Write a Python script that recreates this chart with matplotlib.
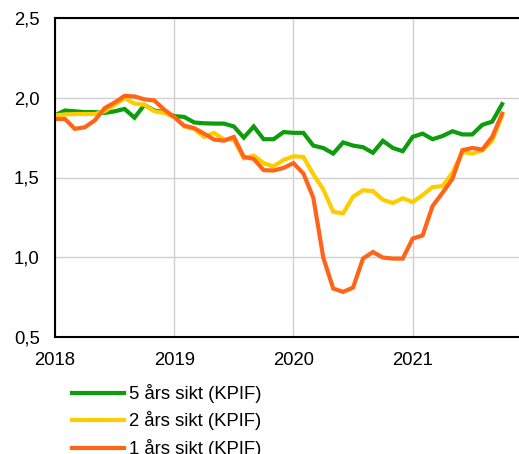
import matplotlib
matplotlib.use("Agg")
import matplotlib.pyplot as plt
import numpy as np

plt.rcParams["font.family"] = ["Liberation Sans", "DejaVu Sans"]

# Monthly data, Jan 2018 - Oct 2021
year_ticks = [2018, 2019, 2020, 2021]
y_ticks = [0.5, 1.0, 1.5, 2.0, 2.5]

kpif_5y = [1.89, 1.92, 1.915, 1.91, 1.91, 1.905, 1.915, 1.93, 1.875, 1.955, 1.92, 1.91,
           1.885, 1.88, 1.845, 1.84, 1.838, 1.838, 1.82, 1.75, 1.82, 1.74, 1.74, 1.785,
           1.78, 1.78, 1.70, 1.685, 1.65, 1.72, 1.70, 1.69, 1.655, 1.73, 1.685, 1.665,
           1.755, 1.775, 1.74, 1.76, 1.79, 1.77, 1.77, 1.83, 1.85, 1.96]
kpif_2y = [1.89, 1.895, 1.898, 1.898, 1.898, 1.915, 1.955, 1.998, 1.963, 1.956, 1.915, 1.904,
           1.879, 1.82, 1.805, 1.755, 1.78, 1.738, 1.738, 1.62, 1.638, 1.59, 1.57, 1.61,
           1.633, 1.629, 1.52, 1.425, 1.285, 1.275, 1.38, 1.42, 1.415, 1.36, 1.34, 1.37,
           1.346, 1.39, 1.44, 1.446, 1.53, 1.66, 1.65, 1.67, 1.73, 1.89]
kpif_1y = [1.867, 1.867, 1.805, 1.815, 1.858, 1.935, 1.97, 2.012, 2.008, 1.99, 1.983, 1.925,
           1.879, 1.825, 1.81, 1.775, 1.738, 1.731, 1.754, 1.629, 1.617, 1.546, 1.544, 1.56,
           1.59, 1.525, 1.373, 0.998, 0.804, 0.783, 0.81, 0.992, 1.033, 0.998, 0.992, 0.992,
           1.117, 1.137, 1.321, 1.404, 1.492, 1.671, 1.685, 1.675, 1.754, 1.90]
labels = ["5 års sikt (KPIF)", "2 års sikt (KPIF)", "1 års sikt (KPIF)"]
colors = ["#0c9c0c", "#ffcc00", "#ff6418"]


def main():
  x = np.arange(len(kpif_5y))

  fig = plt.figure(figsize=(5.19, 4.54), dpi=100)
  ax = fig.add_axes([55 / 519, 1 - 337 / 454, 1 - 55 / 519, (337 - 18) / 454])

  for series, color, label in zip([kpif_5y, kpif_2y, kpif_1y], colors, labels):
    ax.plot(x, series, color=color, lw=3.0, label=label, solid_joinstyle="miter")

  ax.set_xlim(0, 46.7)
  ax.set_ylim(0.5, 2.5)
  ax.set_xticks([(yr - 2018) * 12 for yr in year_ticks])
  ax.set_xticklabels([str(yr) for yr in year_ticks])
  ax.set_yticks(y_ticks)
  ax.set_yticklabels([("%.1f" % v).replace(".", ",") for v in y_ticks])
  ax.tick_params(length=0, labelsize=13.3)
  ax.tick_params(axis="x", pad=11)
  ax.tick_params(axis="y", pad=11)

  ax.grid(True, color="#d0d0d0", lw=1.0)
  ax.set_axisbelow(True)
  for side in ["left", "bottom", "top"]:
    ax.spines[side].set_color("black")
    ax.spines[side].set_linewidth(1.5)
  ax.spines["right"].set_visible(False)

  fig.legend(loc="upper left", bbox_to_anchor=(72 / 519, 1 - 384 / 454),
             frameon=False, fontsize=13.3, handlelength=2.8, handletextpad=0.3,
             labelspacing=0.46, borderaxespad=0, borderpad=0)

  fig.savefig("out.png", dpi=100)
  plt.close(fig)


if __name__ == "__main__":
  main()
